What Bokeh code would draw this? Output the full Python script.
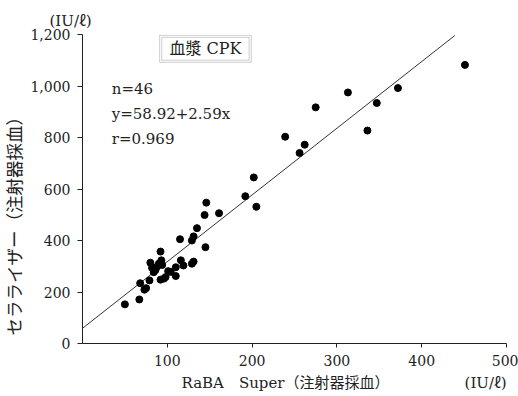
import math
from bokeh.plotting import figure
from bokeh.models import Range1d, FixedTicker, NumeralTickFormatter, Label, BoxAnnotation, ColumnDataSource, Title
from bokeh.embed import file_html
from bokeh.resources import INLINE

# ---- data ----
raba_x = [451, 372, 347, 336, 313, 275, 262, 256, 239, 202, 192, 205,
          146, 144, 161, 135, 131, 129, 115, 145, 129, 131,
          50, 67, 68, 73, 75, 79, 80, 82, 84, 86, 88, 92, 93, 94, 90, 92,
          96, 98, 101, 110, 110, 116, 119, 104]
sera_y = [1082, 992, 934, 827, 975, 917, 772, 740, 803, 645, 572, 531,
          547, 499, 506, 448, 416, 400, 405, 374, 310, 318,
          152, 171, 234, 209, 215, 245, 314, 294, 277, 285, 298, 357, 323, 305, 310, 248,
          252, 258, 281, 296, 262, 323, 303, 278]

intercept = 58.92
slope = 2.59
fit_x = [0, 439]
fit_y = [intercept + slope * v for v in fit_x]

x_ticks = [100, 200, 300, 400, 500]
y_ticks = [0, 200, 400, 600, 800, 1000, 1200]

stats_lines = ["n=46", "y=58.92+2.59x", "r=0.969"]
title_text = "血漿 CPK"
x_title = "RaBA\u3000Super（注射器採血）"
y_title = "セラライザー（注射器採血）"
unit_text = "(IU/\u2113)"

SERIF = "DejaVu Serif, Noto Sans CJK JP"
INK = "#222222"

p = figure(width=518, height=396, output_backend="svg", toolbar_location=None,
           x_range=Range1d(0, 500), y_range=Range1d(0, 1200),
           min_border_left=81, min_border_right=12, min_border_top=34, min_border_bottom=53)
p.outline_line_color = None
p.xgrid.visible = False
p.ygrid.visible = False
p.background_fill_color = "white"
p.border_fill_color = "white"

for ax in (p.xaxis[0], p.yaxis[0]):
    ax.axis_line_color = INK
    ax.major_tick_line_color = INK
    ax.minor_tick_line_color = None
    ax.major_tick_in = 0
    ax.major_label_text_font = SERIF
    ax.major_label_text_font_size = "14px"
    ax.major_label_text_color = INK

p.xaxis[0].ticker = FixedTicker(ticks=x_ticks)
p.xaxis[0].major_tick_out = 4
p.xaxis[0].major_label_standoff = 7
p.yaxis[0].ticker = FixedTicker(ticks=y_ticks)
p.yaxis[0].formatter = NumeralTickFormatter(format="0,0")
p.yaxis[0].major_tick_out = 5
p.yaxis[0].major_label_standoff = 7

src = ColumnDataSource(dict(x=raba_x, y=sera_y))
p.line(fit_x, fit_y, line_color="#333333", line_width=1)
p.scatter("x", "y", source=src, size=7, color="black")

# title box with double border
p.add_layout(BoxAnnotation(left=91, right=199, bottom=1092, top=1197,
                           fill_alpha=0, line_color="#555555", line_width=1))
p.add_layout(BoxAnnotation(left=93.5, right=196.5, bottom=1100, top=1189,
                           fill_alpha=0, line_color="#555555", line_width=1))
p.add_layout(Label(x=145, y=1146, text=title_text, text_align="center", text_baseline="middle",
                   text_font=SERIF, text_font_size="16px", text_color=INK))

stat_y = [988, 891, 793]
for t, yy in zip(stats_lines, stat_y):
    p.add_layout(Label(x=34.5, y=yy, text=t, text_align="left", text_baseline="middle",
                       text_font=SERIF, text_font_size="15px", text_color=INK))

# texts outside the frame as titles (titles are not clipped to the frame)
def side_title(text, place, align, offset, standoff, size="15px"):
    p.add_layout(Title(text=text, align=align, offset=offset, standoff=standoff,
                       text_font=SERIF, text_font_size=size, text_font_style="normal",
                       text_color=INK), place)

side_title(unit_text, "above", "left", -33, 9)
side_title(x_title + "\u3000" * 5 + "\u2002" + unit_text, "below", "left", 99, 7)
side_title(y_title, "left", "left", 8, 5, size="17.5px")

open("out.html", "w").write(file_html(p, INLINE))
